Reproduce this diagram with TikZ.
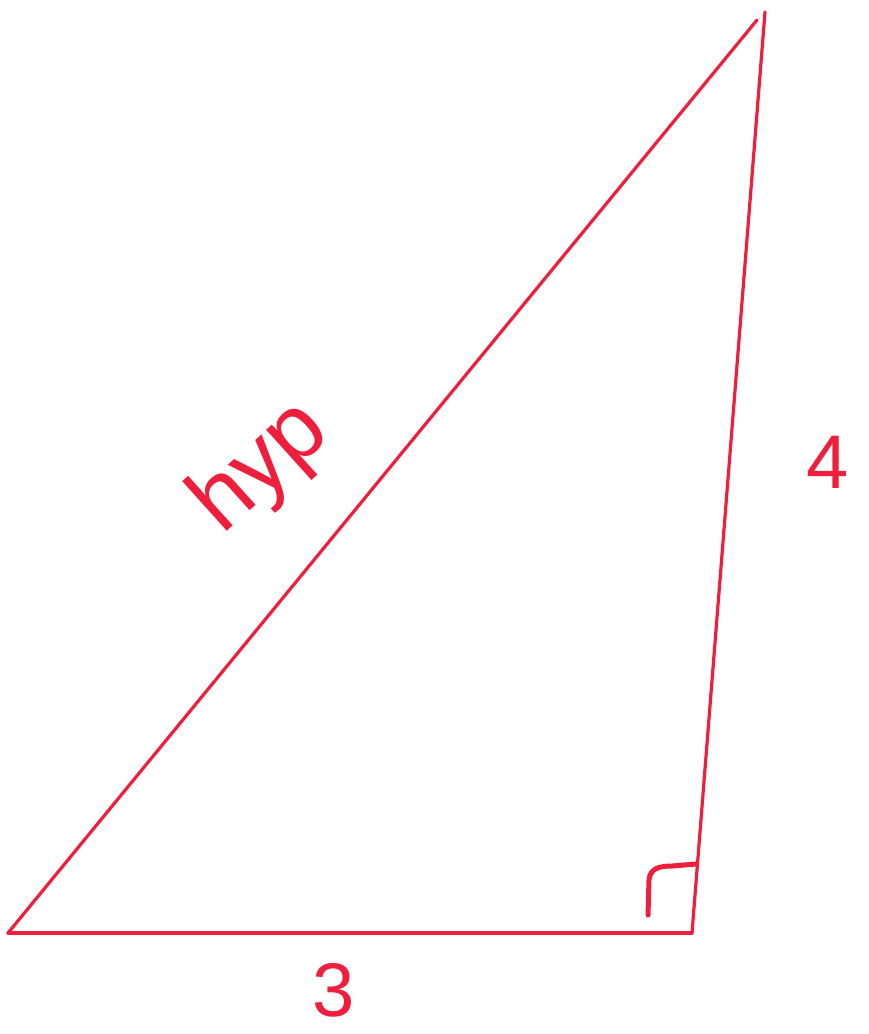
\documentclass[tikz,border=0pt]{standalone}
\usepackage{fontspec}
\setmainfont{Liberation Sans}
\definecolor{pen}{RGB}{238,30,60}
\begin{document}
\begin{tikzpicture}[x=1pt,y=-1pt,
  side/.style={draw=pen,line width=3.2pt,line cap=round},
  rightmark/.style={draw=pen,line width=5pt,line cap=round,line join=round},
  lab/.style={text=pen,font=\fontsize{76}{76}\selectfont,inner sep=0pt}]
\useasboundingbox (0,0) rectangle (868,1034);
\coordinate (A) at (8,933);
\coordinate (B) at (692,933);
\coordinate (C) at (765,12);
\coordinate (Ct) at (757,20);
\draw[side] (A) -- (B);
\draw[side] (B) -- (C);
\draw[side] (A) -- (Ct);
\draw[rightmark] (648,915) -- (649,880) .. controls (650,868) and (660,866) .. (672,866) -- (696,864);
\node[lab,rotate=42,font=\fontsize{92}{92}\selectfont] (hyp) at (262,468) {hyp};
\node[lab] (four) at (828,462) {4};
\node[lab] (three) at (334,990) {3};
\end{tikzpicture}
\end{document}
